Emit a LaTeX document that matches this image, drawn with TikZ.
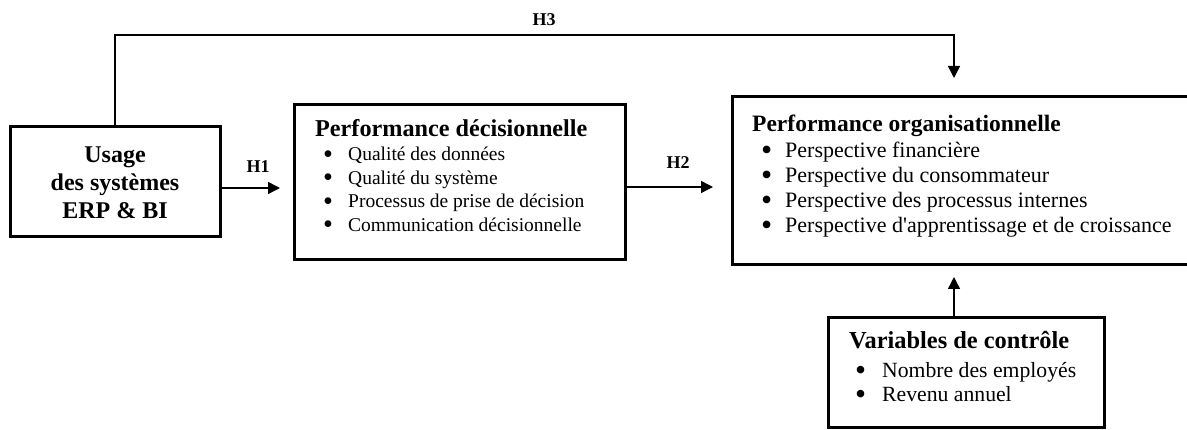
\documentclass[tikz,border=0pt]{standalone}
\usepackage{fontspec}
\usepackage{graphicx}
\setmainfont{Liberation Serif}
\usetikzlibrary{arrows.meta,calc}

% one bulleted line of a list block: #1 = gap from bullet to text
\newcommand\listentry[2]{\makebox[#1][l]{\raisebox{-0.11em}{\scalebox{1.45}{\textbullet}}}#2}

\begin{document}
\begin{tikzpicture}[x=1pt,y=-1pt,
  box/.style={draw,line width=3pt,inner sep=0pt},
  link/.style={line width=1.4pt,-{Triangle[length=12pt,width=12pt]}},
  hlabel/.style={font=\fontsize{18}{20}\selectfont\bfseries,inner sep=0pt},
  txt/.style={inner sep=0pt,anchor=base west}]
\useasboundingbox (0,0) rectangle (1187,430);
\clip (0,0) rectangle (1187,430);

% boxes
\node[box,minimum width=210pt,minimum height=110pt] (A) at (115,182) {};
\node[box,minimum width=331pt,minimum height=155pt] (B) at (459.5,182.5) {};
\node[box,minimum width=468pt,minimum height=168pt] (C) at (966,181) {};
\node[box,minimum width=276pt,minimum height=110pt] (D) at (966,373) {};

% box contents
\node[inner sep=0pt,anchor=base] (Atxt) at (115,163)
  {\fontsize{24}{28}\selectfont\bfseries\begin{tabular}[t]{@{}c@{}}Usage\\ des systèmes\\ ERP \& BI\end{tabular}};

\node[txt] (Btitle) at (315,137) {\fontsize{24.2}{27}\selectfont\bfseries Performance décisionnelle};
\node[txt] (Blist) at (323,161)
  {\fontsize{19.5}{23.5}\selectfont\begin{tabular}[t]{@{}l@{}}
   \listentry{25pt}{Qualité des données}\\
   \listentry{25pt}{Qualité du système}\\
   \listentry{25pt}{Processus de prise de décision}\\
   \listentry{25pt}{Communication décisionnelle}\end{tabular}};

\node[txt] (Ctitle) at (752,132) {\fontsize{23.5}{26}\selectfont\bfseries Performance organisationnelle};
\node[txt] (Clist) at (761,158)
  {\fontsize{22}{25}\selectfont\begin{tabular}[t]{@{}l@{}}
   \listentry{24pt}{Perspective financière}\\
   \listentry{24pt}{Perspective du consommateur}\\
   \listentry{24pt}{Perspective des processus internes}\\
   \listentry{24pt}{Perspective d\textquotesingle apprentissage et de croissance}\end{tabular}};

\node[txt] (Dtitle) at (849,349) {\fontsize{24.4}{27}\selectfont\bfseries Variables de contrôle};
\node[txt] (Dlist) at (855,378)
  {\fontsize{21.7}{24}\selectfont\begin{tabular}[t]{@{}l@{}}
   \listentry{27pt}{Nombre des employés}\\
   \listentry{27pt}{Revenu annuel}\end{tabular}};

% connectors
\coordinate (ax) at (954,35);
\coordinate (h1s) at ($(A.east)+(0,6)$);
\coordinate (h2s) at ($(B.east)+(0,4.5)$);
\draw[link,shorten >=12.5pt] (h1s) -- (h1s -| B.west);
\draw[link,shorten >=17.5pt] (h2s) -- (h2s -| C.west);
\draw[link,shorten >=17.5pt] (A.north) |- (ax) -- (ax |- C.north);
\draw[link,shorten >=10.5pt] (ax |- D.north) -- (ax |- C.south);

% hypothesis labels
\node[hlabel] (H1) at (258,167) {H1};
\node[hlabel] (H2) at (678,163) {H2};
\node[hlabel] (H3) at (544,20) {H3};
\end{tikzpicture}
\end{document}
